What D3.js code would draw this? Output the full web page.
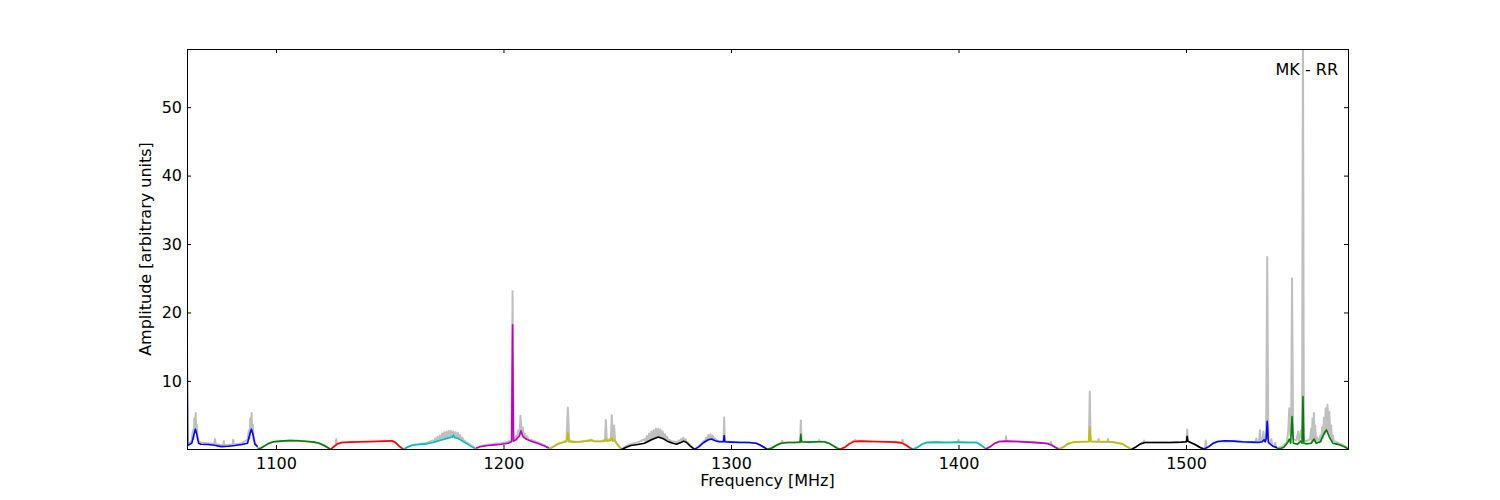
<!DOCTYPE html>
<html>
<head>
<meta charset="utf-8">
<script src="https://cdn.jsdelivr.net/npm/d3@7/dist/d3.min.js"></script>
<style>
  body { margin: 0; background: #fff; }
  text { font-family: "DejaVu Sans", sans-serif; }
</style>
</head>
<body>
<script>
// Chart values.
var xTicks = [1100, 1200, 1300, 1400, 1500];
var yTicks = [10, 20, 30, 40, 50];
var xRange = [1060.9, 1571.2];
var yRange = [0.05, 58.5];
var panelLabel = "MK - RR";

// old matplotlib colour cycle, one colour per 32 MHz sub-band
var bandColors = ["#0000ff", "#008000", "#ff0000", "#00bfbf", "#bf00bf", "#bfbf00", "#000000",
                  "#0000ff", "#008000", "#ff0000", "#00bfbf", "#bf00bf", "#bfbf00", "#000000",
                  "#0000ff", "#008000"];

// raw spectrum (grey), [frequency MHz, amplitude]; noisy stretches zig-zag
var rawSpectrum = [
  [1060.9, 17.5], [1061.2, 0.8], [1062, 0.9], [1063, 1.3], [1063.5, 2.8], [1063.8, 1.5], [1064.1, 4.5],
  [1064.4, 2.5], [1064.7, 5.3], [1065.0, 2.6], [1065.3, 3.6], [1065.6, 1.5], [1066, 1.2], [1067, 1.0],
  [1070, 0.9], [1072.9, 0.8], [1073.2, 1.5], [1073.5, 0.8], [1076.8, 0.6],
  [1077.1, 1.2], [1077.4, 0.6], [1080.9, 0.7], [1081.2, 1.4], [1081.5, 0.7], [1085, 0.9], [1087.5, 1.4],
  [1088.1, 2.8], [1088.4, 1.6], [1088.7, 4.5], [1089.0, 2.5], [1089.3, 5.3], [1089.6, 2.6], [1089.9, 3.6],
  [1090.2, 1.5], [1090.8, 1.0], [1091.5, 0.6], [1092, 0.2],
  [1093.5, 0.2], [1095, 0.5], [1097, 0.9], [1099, 1.1], [1102, 1.2], [1106, 1.3], [1110, 1.25],
  [1114, 1.15], [1117, 1.05], [1119, 0.9], [1121, 0.6], [1122.5, 0.3], [1124, 0.0],
  [1125, 0.3], [1126.2, 0.6], [1126.5, 1.5], [1126.8, 0.7], [1129, 1.0], [1133, 1.05], [1138, 1.1],
  [1143, 1.15], [1148, 1.2], [1151, 1.25], [1152.5, 1.0], [1154, 0.5], [1156, 0.0],
  [1158, 0.4], [1160, 0.65], [1163, 0.8], [1166, 0.9],
  [1169.0, 1.3], [1169.5, 1.05], [1170.0, 1.6], [1170.5, 1.15], [1171.0, 1.8], [1171.5, 1.25],
  [1172.0, 2.0], [1172.5, 1.35], [1173.0, 2.3], [1173.5, 1.45], [1174.0, 2.5], [1174.5, 1.55],
  [1175.0, 2.6], [1175.5, 1.6], [1176.0, 2.7], [1176.5, 1.7], [1177.0, 2.7], [1177.5, 1.8],
  [1178.0, 2.6], [1178.5, 1.75], [1179.0, 2.5], [1179.5, 1.65], [1180.0, 2.4], [1180.5, 1.5],
  [1181.0, 2.1], [1181.5, 1.3], [1182.0, 1.7], [1182.5, 1.1], [1183.0, 1.3], [1183.5, 0.95],
  [1184, 1.0], [1186, 0.5], [1188, 0.1],
  [1190, 0.5], [1193, 0.65], [1196, 0.8], [1199, 0.9], [1202, 1.1], [1203.6, 1.4], [1204.0, 23.1],
  [1204.4, 1.6], [1205.0, 1.4], [1205.5, 2.0], [1206, 1.4], [1206.5, 2.8], [1207, 1.9], [1207.5, 4.9],
  [1208, 2.2], [1208.5, 3.2], [1209, 1.7], [1209.5, 2.3], [1210, 1.5], [1210.5, 1.9], [1211, 1.3],
  [1212, 1.4], [1215, 1.0], [1218, 0.6], [1220, 0.1],
  [1222, 0.4], [1224, 0.8], [1226, 1.05], [1227.7, 1.3], [1228.3, 6.1], [1228.9, 1.3], [1231, 1.1],
  [1234, 1.15], [1237, 1.3], [1238.5, 1.4], [1240, 1.2], [1243, 1.2], [1244.6, 1.4], [1245, 4.3],
  [1245.4, 1.4], [1247.2, 1.5], [1247.6, 5.0], [1248.1, 1.5], [1248.6, 3.5], [1249.1, 1.2],
  [1250, 0.8], [1251, 0.4], [1252, 0.0],
  [1254, 0.5], [1256, 0.8], [1259, 1.0],
  [1262, 1.5], [1262.5, 1.0], [1263, 1.9], [1263.5, 1.15], [1264, 2.3], [1264.5, 1.3], [1265, 2.6],
  [1265.5, 1.45], [1266, 2.8], [1266.5, 1.6], [1267, 3.0], [1267.5, 1.75], [1268, 3.0], [1268.5, 1.75],
  [1269, 2.9], [1269.5, 1.65], [1270, 2.6], [1270.5, 1.5], [1271, 2.2], [1271.5, 1.3], [1272, 1.8],
  [1272.5, 1.1], [1273, 1.4], [1273.5, 0.95], [1274, 1.2], [1275, 1.1], [1276, 1.1], [1276.5, 0.8],
  [1277, 1.3], [1277.5, 0.95], [1278, 1.5], [1278.5, 1.1], [1279, 1.7], [1279.5, 1.15], [1280, 1.5],
  [1280.5, 1.0], [1281, 1.0], [1282, 0.6], [1284, 0.0],
  [1286, 0.5], [1288, 1.2], [1288.5, 1.0], [1289, 1.7], [1289.5, 1.3], [1290, 2.1], [1290.5, 1.45],
  [1291, 2.2], [1291.5, 1.5], [1292, 2.0], [1292.5, 1.35], [1293, 1.6], [1294, 1.2], [1295, 1.2],
  [1296.7, 1.2], [1297, 4.7], [1297.3, 1.2], [1300, 1.1], [1304, 1.05], [1308, 1.0], [1311, 0.9],
  [1313, 0.6], [1314.5, 0.3], [1316, 0.0],
  [1318, 0.2], [1320, 0.6], [1322.2, 0.95], [1322.5, 1.3], [1322.8, 0.95], [1325, 1.0], [1328, 1.0],
  [1330.4, 1.05], [1330.7, 4.2], [1331, 1.1], [1334, 1.05], [1338.5, 1.1], [1338.8, 1.35], [1339.1, 1.1],
  [1341, 1.1], [1343, 0.9], [1345, 0.5], [1346.5, 0.2], [1348, 0.0],
  [1350, 0.3], [1352, 0.8], [1354, 1.2], [1354.6, 1.35], [1355.2, 1.2], [1357, 1.2], [1362, 1.15],
  [1367, 1.1], [1372, 1.05], [1375, 1.0], [1375.4, 1.4], [1375.8, 0.9], [1377, 0.6], [1378.5, 0.25], [1380, 0.0],
  [1382, 0.3], [1384, 0.75], [1386, 1.0], [1390, 1.05], [1395, 1.0], [1399.7, 1.05], [1400, 1.4],
  [1400.3, 1.05], [1405, 1.0], [1408, 1.0], [1410, 0.6], [1411.5, 0.2], [1412, 0.05],
  [1414, 0.4], [1416, 0.9], [1418, 1.15], [1420.6, 1.2], [1420.9, 1.9], [1421.2, 1.2], [1426, 1.15],
  [1431, 1.05], [1436, 0.95], [1439, 0.85], [1440.3, 0.8], [1440.6, 1.1], [1440.9, 0.7], [1442.5, 0.3], [1444, 0.05],
  [1446, 0.3], [1448, 0.8], [1450.5, 1.05], [1454, 1.1], [1457.3, 1.15], [1457.7, 8.4], [1458.1, 1.2],
  [1461.3, 1.1], [1461.6, 1.5], [1461.9, 1.1], [1465.4, 1.1], [1465.7, 1.5], [1466, 1.1], [1469, 1.0],
  [1472, 0.8], [1474, 0.4], [1476, 0.0],
  [1478, 0.35], [1480, 0.8], [1481.2, 1.0], [1481.5, 1.3], [1481.8, 1.0], [1487, 1.0], [1493, 1.0],
  [1498, 1.05], [1500.1, 1.1], [1500.5, 2.9], [1500.9, 1.2], [1502, 1.0], [1504, 0.7], [1506, 0.3],
  [1508.3, 0.05], [1508.7, 1.3], [1509.1, 0.2],
  [1510, 0.4], [1512, 0.9], [1514, 1.15], [1517, 1.2], [1521, 1.15], [1525, 1.05], [1529, 1.0],
  [1530.5, 1.0], [1530.9, 1.6], [1531.3, 1.0], [1532.1, 1.2], [1532.5, 2.8], [1532.9, 1.2],
  [1533.6, 1.3], [1534.0, 2.6], [1534.4, 1.3], [1535.2, 1.8], [1535.7, 28.1], [1536.2, 1.2],
  [1537.0, 0.9], [1537.5, 1.5], [1538, 0.6], [1538.8, 0.4], [1539.2, 1.0], [1539.6, 0.3], [1540, 0.15],
  [1541.5, 0.3], [1543, 0.6], [1544.3, 1.0], [1544.9, 2.5], [1545.4, 6.0], [1545.9, 2.0], [1546.2, 2.0],
  [1546.6, 25.0], [1547.1, 1.5], [1548.5, 1.3], [1549.3, 2.6], [1549.7, 1.2], [1550.6, 2.8], [1551.0, 1.5],
  [1551.4, 62.0], [1551.8, 1.3], [1553, 1.2], [1554.5, 1.5], [1555.0, 3.0], [1555.3, 1.0], [1555.6, 4.5],
  [1555.9, 1.2], [1556.2, 5.3], [1556.5, 1.3], [1556.8, 3.5], [1557.1, 1.0], [1557.5, 1.8], [1558, 1.5],
  [1558.5, 1.0], [1559, 2.0], [1559.4, 1.1], [1559.8, 3.2], [1560.2, 1.6], [1560.6, 4.6], [1561.0, 2.2],
  [1561.4, 6.0], [1561.8, 2.7], [1562.2, 6.5], [1562.6, 2.4], [1563.0, 5.5], [1563.4, 1.8], [1563.8, 3.5],
  [1564.2, 1.2], [1564.6, 2.0], [1565, 1.2], [1567, 0.9], [1569, 0.6], [1571.2, 0.2]
];

// smoothed spectrum, one list per sub-band
var bandSeries = [
  [[1060.9, 17.4], [1061.2, 0.6], [1062, 0.7], [1063, 0.9], [1064, 2.2], [1064.6, 2.95], [1065.2, 2.2],
   [1066, 0.9], [1067, 0.75], [1070, 0.7], [1073, 0.6], [1076, 0.4], [1079, 0.45], [1082, 0.55],
   [1085, 0.7], [1087.5, 0.9], [1088.5, 2.2], [1089.2, 2.95], [1089.9, 2.2], [1090.7, 0.8],
   [1091.5, 0.5], [1092, 0.4]],
  [[1092, 0.0], [1093.5, 0.2], [1095, 0.5], [1097, 0.9], [1099, 1.1], [1102, 1.2], [1106, 1.3],
   [1110, 1.25], [1114, 1.15], [1117, 1.05], [1119, 0.9], [1121, 0.6], [1122.5, 0.3], [1124, 0.0]],
  [[1124, 0.0], [1125.5, 0.4], [1127, 0.8], [1129, 1.0], [1133, 1.05], [1138, 1.1], [1143, 1.15],
   [1148, 1.2], [1151, 1.25], [1152.5, 1.0], [1154, 0.5], [1156, 0.0]],
  [[1156, 0.0], [1158, 0.35], [1160, 0.6], [1163, 0.7], [1166, 0.8], [1169, 1.0], [1172, 1.3],
   [1175, 1.6], [1177.5, 1.8], [1178, 2.1], [1178.5, 1.75], [1180, 1.6], [1182, 1.2], [1184, 0.8],
   [1186, 0.4], [1188, 0.0]],
  [[1188, 0.2], [1190, 0.4], [1193, 0.55], [1196, 0.65], [1199, 0.75], [1202, 0.9], [1203.6, 1.1],
   [1204.0, 18.2], [1204.4, 1.2], [1205.5, 1.4], [1207, 2.0], [1207.7, 2.7], [1208.5, 1.9], [1210, 1.5],
   [1212, 1.2], [1215, 0.9], [1218, 0.5], [1220, 0.2]],
  [[1220, 0.0], [1222, 0.4], [1224, 0.8], [1226, 1.0], [1227.8, 1.1], [1228.3, 2.4], [1228.8, 1.1],
   [1231, 1.05], [1234, 1.1], [1237, 1.2], [1238.5, 1.3], [1240, 1.15], [1243, 1.15], [1244.6, 1.2],
   [1245, 1.5], [1245.5, 1.2], [1247.2, 1.3], [1247.6, 1.7], [1248, 1.2], [1248.6, 1.4], [1249.3, 1.1],
   [1250, 0.7], [1251, 0.3], [1252, 0.0]],
  [[1252, 0.0], [1254, 0.3], [1256, 0.55], [1259, 0.7], [1262, 0.9], [1265, 1.4], [1268, 1.8],
   [1270, 1.6], [1272, 1.2], [1274.5, 0.9], [1276, 0.75], [1278, 1.0], [1279.2, 1.2], [1280.5, 1.0],
   [1282, 0.5], [1284, 0.0]],
  [[1284, 0.0], [1286, 0.4], [1288, 1.0], [1290, 1.4], [1291.5, 1.5], [1293, 1.25], [1295, 1.1],
   [1296.7, 1.1], [1297, 2.0], [1297.3, 1.1], [1300, 1.05], [1304, 1.0], [1308, 1.0], [1311, 0.9],
   [1313, 0.6], [1314.5, 0.3], [1316, 0.0]],
  [[1316, 0.0], [1318, 0.2], [1320, 0.6], [1322, 0.9], [1325, 1.0], [1328, 1.0], [1330.4, 1.05],
   [1330.7, 2.2], [1331, 1.1], [1334, 1.05], [1338, 1.1], [1341, 1.1], [1343, 0.9], [1345, 0.5],
   [1346.5, 0.2], [1348, 0.0]],
  [[1348, 0.0], [1350, 0.3], [1352, 0.8], [1354, 1.15], [1357, 1.2], [1362, 1.15], [1367, 1.1],
   [1372, 1.05], [1375, 0.95], [1377, 0.6], [1378.5, 0.25], [1380, 0.0]],
  [[1380, 0.0], [1382, 0.3], [1384, 0.75], [1386, 1.0], [1390, 1.05], [1395, 1.0], [1400, 1.05],
   [1405, 1.0], [1408, 1.0], [1410, 0.6], [1411.5, 0.2], [1412, 0.05]],
  [[1412, 0.05], [1414, 0.4], [1416, 0.9], [1418, 1.15], [1421, 1.2], [1426, 1.15], [1431, 1.05],
   [1436, 0.95], [1439, 0.85], [1441, 0.6], [1442.5, 0.3], [1444, 0.05]],
  [[1444, 0.0], [1446, 0.3], [1448, 0.8], [1450.5, 1.05], [1454, 1.1], [1457.3, 1.1], [1457.7, 3.3],
   [1458.1, 1.15], [1461, 1.1], [1465, 1.1], [1469, 1.0], [1472, 0.8], [1474, 0.4], [1476, 0.0]],
  [[1476, 0.0], [1478, 0.35], [1480, 0.8], [1482, 1.0], [1487, 1.0], [1493, 1.0], [1498, 1.05],
   [1500.2, 1.1], [1500.5, 1.9], [1500.8, 1.2], [1502, 1.0], [1504, 0.7], [1506, 0.3], [1508, 0.0]],
  [[1508, 0.05], [1510, 0.4], [1512, 0.9], [1514, 1.15], [1517, 1.25], [1521, 1.2], [1525, 1.1],
   [1529, 1.05], [1532, 1.0], [1533.5, 1.1], [1534.3, 1.4], [1534.8, 1.1], [1535.2, 1.5], [1535.7, 4.1],
   [1536.2, 1.0], [1537.4, 0.65], [1538.5, 0.4], [1540, 0.25]],
  [[1540, 0.1], [1541.5, 0.1], [1543, 0.3], [1544.7, 1.0], [1545.4, 1.5], [1546.0, 0.9], [1546.6, 4.8],
   [1547.2, 0.9], [1549, 0.75], [1550.5, 1.2], [1551.0, 0.9], [1551.4, 7.7], [1551.8, 0.9], [1553, 0.8],
   [1555, 0.9], [1556.3, 1.5], [1557.2, 0.9], [1559, 1.1], [1560.5, 2.2], [1561.7, 2.85], [1563, 1.8],
   [1564.5, 0.9], [1566, 0.8], [1568, 0.6], [1570, 0.3], [1571.2, 0.05]]
];

// Partition the drawing space.
var margin = {top: 49, right: 152, bottom: 51, left: 187},
    width = 1500 - margin.left - margin.right,
    height = 500 - margin.top - margin.bottom;

var svg = d3.select("body")
            .append("svg")
            .attr("width", 1500)
            .attr("height", 500);

var plot = svg.append("g")
              .attr("transform", "translate(" + margin.left + "," + margin.top + ")");

var x = d3.scaleLinear().domain(xRange).range([0, width]);
var y = d3.scaleLinear().domain(yRange).range([height, 0]);

plot.append("clipPath")
    .attr("id", "clip")
    .append("rect")
    .attr("width", width)
    .attr("height", height);

var line = d3.line()
             .x(function(d) { return x(d[0]); })
             .y(function(d) { return y(d[1]); });

var lines = plot.append("g").attr("clip-path", "url(#clip)");

lines.append("path")
     .datum(rawSpectrum)
     .attr("d", line)
     .attr("fill", "none")
     .attr("stroke", "#bfbfbf")
     .attr("stroke-width", 2)
     .attr("stroke-linejoin", "round");

lines.selectAll(".band")
     .data(bandSeries)
     .enter().append("path")
     .attr("class", "band")
     .attr("d", line)
     .attr("fill", "none")
     .attr("stroke", function(d, i) { return bandColors[i]; })
     .attr("stroke-width", 1.6)
     .attr("stroke-linejoin", "round");

// axes with inward ticks on all four sides
function styleAxis(g) {
  g.select(".domain").remove();
  g.selectAll(".tick line").attr("stroke", "#000");
  g.selectAll("text").attr("fill", "#000").style("font-size", "16px");
}

plot.append("g")
    .attr("transform", "translate(0," + height + ")")
    .call(d3.axisBottom(x).tickValues(xTicks).tickSize(-4).tickPadding(9).tickFormat(d3.format("d")))
    .call(styleAxis);

plot.append("g")
    .call(d3.axisTop(x).tickValues(xTicks).tickSize(-4).tickFormat(""))
    .call(styleAxis);

plot.append("g")
    .call(d3.axisLeft(y).tickValues(yTicks).tickSize(-4).tickPadding(5).tickFormat(d3.format("d")))
    .call(styleAxis);

plot.append("g")
    .attr("transform", "translate(" + width + ",0)")
    .call(d3.axisRight(y).tickValues(yTicks).tickSize(-4).tickFormat(""))
    .call(styleAxis);

plot.append("rect")
    .attr("width", width)
    .attr("height", height)
    .attr("fill", "none")
    .attr("stroke", "#000")
    .attr("stroke-width", 1)
    .attr("shape-rendering", "crispEdges");

plot.append("text")
    .attr("x", width - 10)
    .attr("y", 26)
    .attr("text-anchor", "end")
    .style("font-size", "16px")
    .text(panelLabel);

svg.append("text")
   .attr("x", margin.left + width / 2)
   .attr("y", 486)
   .attr("text-anchor", "middle")
   .style("font-size", "16px")
   .text("Frequency [MHz]");

svg.append("text")
   .attr("transform", "translate(151," + (margin.top + height / 2) + ") rotate(-90)")
   .attr("text-anchor", "middle")
   .style("font-size", "16px")
   .text("Amplitude [arbitrary units]");
</script>
</body>
</html>
